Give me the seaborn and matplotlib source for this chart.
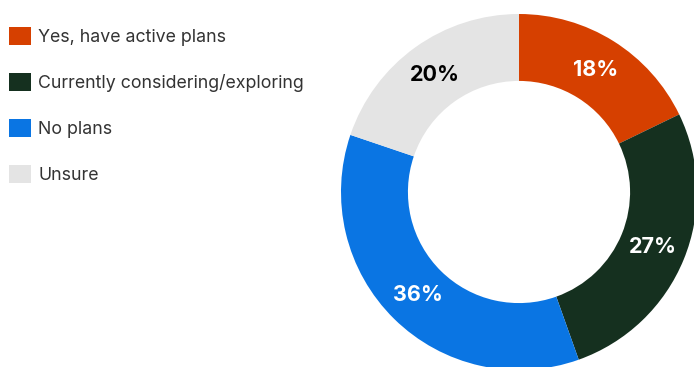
import matplotlib
matplotlib.use("Agg")
import matplotlib.pyplot as plt
from matplotlib.patches import Patch
import numpy as np
import seaborn as sns

categories = ["Yes, have active plans", "Currently considering/exploring", "No plans", "Unsure"]
shares = [18, 27, 36, 20]
palette = sns.color_palette(["#D64000", "#15301F", "#0A75E3", "#E4E4E4"])
label_colors = ["white", "white", "white", "black"]

sns.set_theme(style="white")
plt.rcParams["font.family"] = ["Inter", "DejaVu Sans"]

W, H = 694, 367
fig = plt.figure(figsize=(W / 100, H / 100), dpi=100)

# donut axes: centre (519, 192) px, outer radius 178 px
cx, cy, r = 519, 192, 178
ax = fig.add_axes([(cx - r) / W, (H - cy - r) / H, 2 * r / W, 2 * r / H])
ring = 0.376
ax.pie(
    shares,
    colors=palette,
    startangle=90,
    counterclock=False,
    radius=1.0,
    wedgeprops=dict(width=ring, linewidth=0),
)
ax.set_xlim(-1, 1)
ax.set_ylim(-1, 1)
ax.set_aspect("equal")
ax.axis("off")

# percentage labels in the middle of the ring
total = sum(shares)
mid_r = 1.0 - ring / 2
start = 90.0
for val, col in zip(shares, label_colors):
    theta = np.deg2rad(start - 360.0 * val / total / 2)
    ax.text(mid_r * np.cos(theta), mid_r * np.sin(theta), f"{val}%",
            ha="center", va="center", color=col, fontsize=15.5, fontweight="bold")
    start -= 360.0 * val / total

handles = [Patch(facecolor=c, edgecolor="none") for c in palette]
fig.legend(handles, categories, loc="upper left", bbox_to_anchor=(0.0, (H - 18) / H),
           frameon=False, fontsize=12.8, handlelength=1.22, handleheight=1.22,
           handletextpad=0.42, labelspacing=1.5, borderaxespad=0, borderpad=0.5,
           labelcolor="#333333")

fig.savefig("out.png", dpi=100, facecolor="white")
